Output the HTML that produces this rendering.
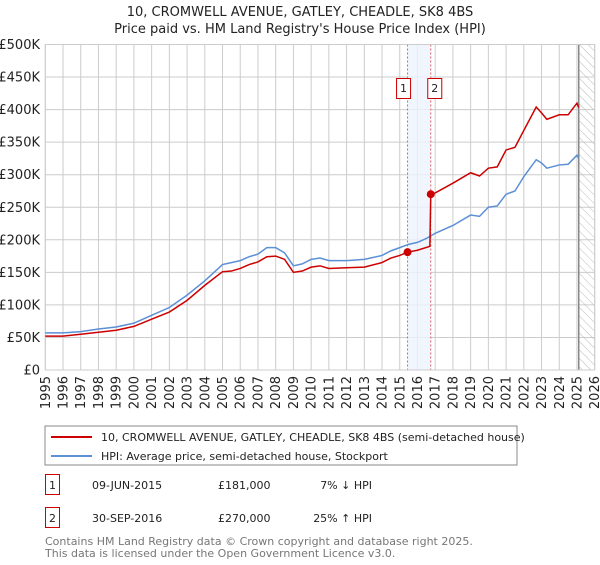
<!DOCTYPE html>
<html><head><meta charset="utf-8"><style>
body{margin:0;background:#fff;font-family:"Liberation Sans","DejaVu Sans",sans-serif;}
svg text{font-family:"DejaVu Sans","Liberation Sans",sans-serif;}
</style></head><body>
<svg id="c" width="600" height="560" viewBox="0 0 600 560">
<defs><pattern id="hatch" width="6" height="6" patternUnits="userSpaceOnUse" patternTransform="rotate(-45)"><line x1="0" y1="0" x2="0" y2="6" stroke="#bbb" stroke-width="1"/></pattern></defs>
<text x="300" y="16" text-anchor="middle" font-size="13" fill="#222">10, CROMWELL AVENUE, GATLEY, CHEADLE, SK8 4BS</text>
<text x="300" y="33" text-anchor="middle" font-size="13" fill="#222">Price paid vs. HM Land Registry's House Price Index (HPI)</text>
<g id="grid"></g><g id="marks"></g><g id="axes"></g>
<rect x="45" y="426" width="472" height="39" fill="#fff" stroke="#888"/>
<line x1="51" y1="437" x2="92" y2="437" stroke="#cc0000" stroke-width="2"/>
<text x="101" y="441" font-size="11" fill="#222">10, CROMWELL AVENUE, GATLEY, CHEADLE, SK8 4BS (semi-detached house)</text>
<line x1="51" y1="456" x2="92" y2="456" stroke="#5b8fd6" stroke-width="2"/>
<text x="101" y="460" font-size="11" fill="#222">HPI: Average price, semi-detached house, Stockport</text>
<g>
<rect x="45.5" y="474.5" width="14" height="20" fill="#fff" stroke="#cc0000"/><text x="52.5" y="489" text-anchor="middle" font-size="11" fill="#222">1</text>
<text x="92" y="489" font-size="11" fill="#222">09-JUN-2015</text><text x="218" y="489" font-size="11" fill="#222">£181,000</text><text x="372" y="489" text-anchor="end" font-size="11" fill="#222">7% ↓ HPI</text></g>
<g>
<rect x="45.5" y="507.5" width="14" height="20" fill="#fff" stroke="#cc0000"/><text x="52.5" y="522" text-anchor="middle" font-size="11" fill="#222">2</text>
<text x="92" y="522" font-size="11" fill="#222">30-SEP-2016</text><text x="218" y="522" font-size="11" fill="#222">£270,000</text><text x="372" y="522" text-anchor="end" font-size="11" fill="#222">25% ↑ HPI</text></g>
<text x="45" y="545" font-size="11" fill="#777">Contains HM Land Registry data © Crown copyright and database right 2025.</text>
<text x="45" y="557" font-size="11" fill="#777">This data is licensed under the Open Government Licence v3.0.</text>
</svg>
<script>
const hpiYears=[1995,1996,1997,1998,1999,2000,2001,2002,2003,2004,2005,2005.5,2006,2006.5,2007,2007.5,2008,2008.5,2009,2009.5,2010,2010.5,2011,2012,2013,2014,2014.5,2015,2015.5,2016,2016.5,2017,2018,2019,2019.5,2020,2020.5,2021,2021.5,2022,2022.7,2023,2023.3,2024,2024.5,2025,2025.1];
const hpiValues=[57,57,59,63,66,72,84,96,115,137,162,165,168,174,178,188,188,180,160,163,170,172,168,168,170,176,183,188,193,196,202,210,222,238,236,250,252,270,275,297,323,318,310,315,316,330,325];
const priceYears=[1995,1996,1997,1998,1999,2000,2001,2002,2003,2004,2005,2005.5,2006,2006.5,2007,2007.5,2008,2008.5,2009,2009.5,2010,2010.5,2011,2012,2013,2014,2014.5,2015,2015.44,2016,2016.7,2016.75,2017,2018,2019,2019.5,2020,2020.5,2021,2021.5,2022,2022.7,2023,2023.3,2024,2024.5,2025,2025.1];
const priceValues=[52,52,55,58,61,67,78,89,107,130,151,152,156,162,166,174,175,170,150,152,158,160,156,157,158,165,172,176,181,184,190,270,272,287,303,298,310,312,338,342,368,404,395,385,392,392,410,403];
const saleYears=[2015.44,2016.75];
const saleValues=[181,270];
const saleLabels=["1","2"];
const yTicks=[0,50,100,150,200,250,300,350,400,450,500];
const yTickLabels=["£0","£50K","£100K","£150K","£200K","£250K","£300K","£350K","£400K","£450K","£500K"];
const xTicks=[1995,1996,1997,1998,1999,2000,2001,2002,2003,2004,2005,2006,2007,2008,2009,2010,2011,2012,2013,2014,2015,2016,2017,2018,2019,2020,2021,2022,2023,2024,2025,2026];
const dataEnd=2025.1;
const X0=45.3,X1=594.7,Y0=370,Y1=44.5;
const xs=y=>X0+(y-1995)/(2026-1995)*(X1-X0);
const ys=v=>Y0-v/500*(Y0-Y1);
const NS="http://www.w3.org/2000/svg";
function mk(p,t,a){const e=document.createElementNS(NS,t);for(const k in a)e.setAttribute(k,a[k]);p.appendChild(e);return e;}
const g=document.getElementById('grid'),m=document.getElementById('marks'),ax=document.getElementById('axes');
for(const t of yTicks){const l=mk(g,'line',{x1:X0,x2:X1,y1:ys(t),y2:ys(t),stroke:'#ccc'});

}
for(const t of xTicks){const l=mk(g,'line',{x1:xs(t),x2:xs(t),y1:Y1,y2:Y0,stroke:'#ccc'});

}
const sh=mk(g,'rect',{x:xs(saleYears[0]),y:Y1,width:xs(saleYears[1])-xs(saleYears[0]),height:Y0-Y1,fill:'#eef3fc',opacity:0.8});


const ht=mk(g,'rect',{x:xs(dataEnd),y:Y1,width:X1-xs(dataEnd),height:Y0-Y1,fill:'url(#hatch)'});


const el=mk(g,'line',{x1:xs(dataEnd),x2:xs(dataEnd),y1:Y1,y2:Y0,stroke:'#888',"stroke-width":1.5});


saleYears.forEach((s,i)=>{const l=mk(g,'line',{x1:xs(s),x2:xs(s),y1:Y1,y2:Y0,stroke:'#e06060',"stroke-dasharray":'2,2'});

});
const pa=mk(g,'rect',{x:X0,y:Y1,width:X1-X0,height:Y0-Y1,fill:'none',stroke:'#ccc'});


const hp=mk(m,'polyline',{points:hpiYears.map((y,i)=>xs(y)+','+ys(hpiValues[i])).join(' '),fill:'none',stroke:'#5b8fd6','stroke-width':1.5});


const pp=mk(m,'polyline',{points:priceYears.map((y,i)=>xs(y)+','+ys(priceValues[i])).join(' '),fill:'none',stroke:'#cc0000','stroke-width':1.5});


saleYears.forEach((s,i)=>{const c=mk(m,'circle',{cx:xs(s),cy:ys(saleValues[i]),r:4,fill:'#cc0000'});


const b=mk(m,'rect',{x:xs(s)+(i==0?-11:-3),y:78.5,width:14,height:20,fill:'#fff',stroke:'#cc0000'});


const t=mk(m,'text',{x:xs(s)+(i==0?-4:4),y:92,'text-anchor':'middle','font-size':11,fill:'#222'});t.textContent=saleLabels[i];

});
yTicks.forEach((t,i)=>{const e=mk(ax,'text',{x:40,y:ys(t)+4.5,'text-anchor':'end','font-size':13,fill:'#222'});e.textContent=yTickLabels[i];

});
xTicks.forEach(t=>{const e=mk(ax,'text',{x:0,y:0,'text-anchor':'end','font-size':13,fill:'#222',transform:`translate(${xs(t)+4.5},376) rotate(-90)`});e.textContent=t;

});
</script>
</body></html>
